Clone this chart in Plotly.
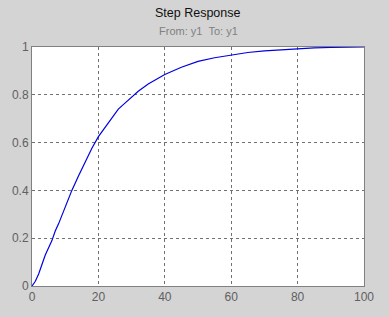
import plotly.graph_objects as go

time = [0, 1, 2, 3, 4, 5, 6, 7, 8, 10, 12, 14, 16, 18, 20, 22, 24, 26, 28, 30,
        32, 35, 38, 40, 45, 50, 55, 60, 65, 70, 75, 80, 85, 90, 95, 100]
amplitude = [0, 0.02, 0.05, 0.09, 0.13, 0.16, 0.19, 0.23, 0.26, 0.33, 0.40, 0.46,
             0.52, 0.575, 0.625, 0.665, 0.705, 0.74, 0.765, 0.79,
             0.815, 0.845, 0.87, 0.885, 0.915, 0.94, 0.955, 0.967, 0.977, 0.984,
             0.989, 0.994, 0.996, 0.998, 0.999, 1.0]

x_ticks = [0, 20, 40, 60, 80, 100]
y_ticks = [0, 0.2, 0.4, 0.6, 0.8, 1]
y_tick_labels = ["0", "0.2", "0.4", "0.6", "0.8", "1"]

fig = go.Figure()
fig.add_trace(go.Scatter(x=time, y=amplitude, mode="lines",
                         line=dict(color="#0000e0", width=1.2),
                         showlegend=False, hoverinfo="skip"))

axis_common = dict(showline=True, linecolor="#808080", linewidth=1, mirror=True,
                   showgrid=True, gridcolor="#707070", griddash="3px,3px", gridwidth=1,
                   zeroline=False, ticks="", automargin=False,
                   tickfont=dict(family="Liberation Sans", size=12, color="#606060"))

fig.update_xaxes(range=[0, 100], tickvals=x_ticks, ticktext=[str(v) for v in x_ticks], **axis_common)
fig.update_yaxes(range=[0, 1], tickvals=y_ticks, ticktext=y_tick_labels, **axis_common)

plot_h = 317 - 47 - 31
fig.update_layout(
    width=389, height=317,
    margin=dict(l=32, r=25, t=47, b=31),
    paper_bgcolor="#d4d4d4",
    plot_bgcolor="white",
    hovermode=False,
    font=dict(family="Liberation Sans", size=11, color="#000000"),
    annotations=[
        dict(text="Step Response", x=0.5, y=1 + (47 - 13) / plot_h, xref="paper", yref="paper",
             showarrow=False, yanchor="middle", font=dict(size=12.5, color="#101010")),
        dict(text="From: y1 \u00a0To: y1", x=0.5, y=1 + (47 - 31) / plot_h, xref="paper", yref="paper",
             showarrow=False, yanchor="middle", font=dict(size=11, color="#808080")),
    ],
)

fig.write_html("out.html", config={"displayModeBar": False},
               post_script="document.body.style.margin='0';document.body.style.padding='0';")
